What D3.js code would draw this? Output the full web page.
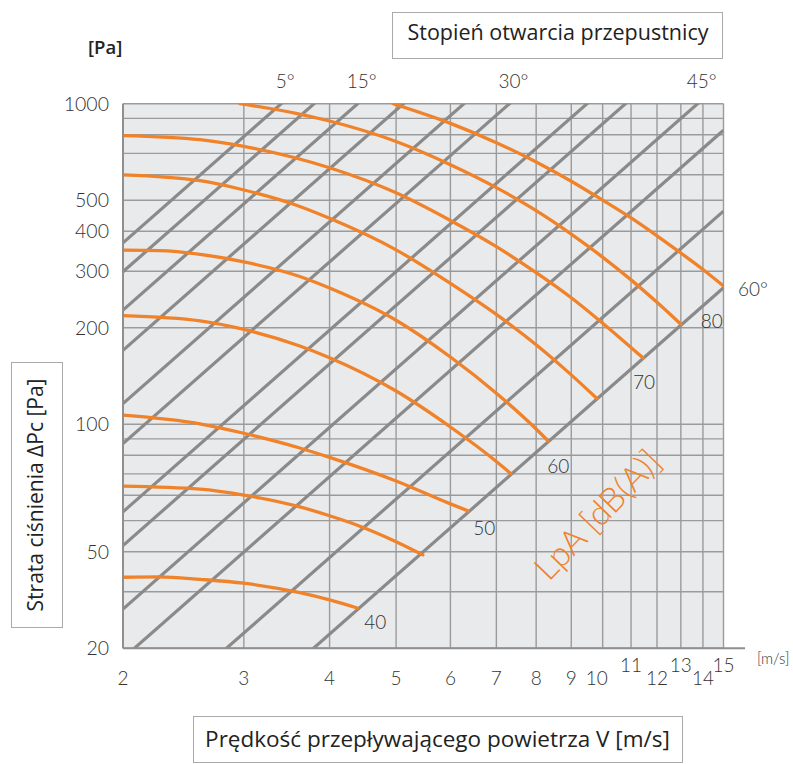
<!DOCTYPE html>
<html><head><meta charset="utf-8">
<script src="https://cdn.jsdelivr.net/npm/d3@7"></script>
<style>body{margin:0;background:#fff}</style>
</head><body>
<svg id="chart" width="793" height="764"></svg>
<script>
// ---------- data ----------
const xTicks = [2,3,4,5,6,7,8,9,10,11,12,13,14,15];
const xRaisedTicks = [11,13,15];
const yGrid = [20,30,40,50,60,70,80,90,100,200,300,400,500,600,700,800,900,1000];
const yTickValues = [1000,500,400,300,200,100,40,20];
const yTickLabels = ["1000","500","400","300","200","100","50","20"];
// grey damper lines: pressure [Pa] at 2 m/s, common exponent
const damperP2 = [368,299,227,170,116,87,53.3,41.8,26.5,18.6,10.4,6.0];
const damperExp = 1.883;
const damperLabelLines = [0,2,5,8,11];
const damperLabelTexts = ["5°","15°","30°","45°","60°"];
// orange LpA curves [v m/s, Δp Pa]
const curveA = [[2,33.3],[2.26,33.4],[2.59,32.8],[3,31.9],[3.62,29.8],[4,28.3],[4.39,26.7]];
const curveB = [[2,64.1],[2.59,62.7],[3,60.1],[3.62,55.2],[4,51.8],[4.39,48.4],[5,43.0],[5.47,39.1]];
const curveC = [[2,106.8],[2.59,100.3],[3,93.7],[3.62,84.3],[4,78.8],[5,66.5],[6,56.4],[6.37,53.6]];
const curveD = [[2,218],[2.59,210],[3,197.5],[3.62,175.4],[4,161.2],[5,126.9],[6,98],[7,76.5],[7.35,70.1]];
const curveE = [[2,349],[2.26,348],[2.59,339],[3,321],[3.62,289],[4,266],[5,211],[6,162],[7,124.9],[8,96.6],[8.33,88.6]];
const curveF = [[2,600],[2.59,575],[3,538],[3.62,478],[4,439],[5,350],[6,275],[7,220],[8,177],[9,142.5],[9.81,120.2]];
const curveG = [[2,795],[2.59,772],[3,736],[4,631],[5,527],[6,432],[7,358],[8,297],[9,248],[9.91,210],[11.45,161]];
const curveH = [[2.96,1000],[3.56,935],[4,883],[5,762],[6,645],[7,547],[8,464],[9,392],[9.91,337],[11,282],[12,240],[13,205]];
const curveI = [[4.95,1000],[6,868],[7,756],[8,658],[9,573],[10,500],[11,440],[12,387],[13,342],[14,304],[15,270]];
const lpaCurves = [curveA,curveB,curveC,curveD,curveE,curveF,curveG,curveH,curveI];
const lpaLabelCurves = [0,2,4,6,7];
const lpaLabelTexts = ["40","50","60","70","80"];

// ---------- layout ----------
const svg = d3.select("#chart");
const L = 123, R = 723.5, T = 103.7, B = 648.2;
const x = d3.scaleLog().domain([2,15]).range([L,R]);
const y = d3.scaleLog().domain([20,1000]).range([B,T]);
const numFont = "Lato, 'Open Sans', sans-serif";
const txtFont = "'Open Sans', 'Noto Sans', sans-serif";
const orange = "#f0822a";
const textCol = "#333";

svg.append("rect").attr("x",L).attr("y",T).attr("width",R-L).attr("height",B-T).attr("fill","#e9eaec");

svg.append("defs").append("clipPath").attr("id","clip")
  .append("rect").attr("x",L).attr("y",T).attr("width",R-L).attr("height",B-T);

// grid
const grid = svg.append("g").attr("stroke","#9b9b9b").attr("stroke-width",1.4);
grid.selectAll("line.h").data(yGrid).join("line")
  .attr("x1",L).attr("x2",R).attr("y1",d=>y(d)).attr("y2",d=>y(d));
grid.selectAll("line.v").data(xTicks).join("line")
  .attr("y1",T).attr("y2",B).attr("x1",d=>x(d)).attr("x2",d=>x(d));

// damper lines
const plot = svg.append("g").attr("clip-path","url(#clip)");
const lineGen = d3.line().x(d=>x(d[0])).y(d=>y(d[1]));
const vSamples = [2,15];
plot.selectAll("path.damper").data(damperP2).join("path")
  .attr("fill","none").attr("stroke","#8a8a8a").attr("stroke-width",3.2)
  .attr("d",p2 => lineGen(vSamples.map(v=>[v,p2*Math.pow(v/2,damperExp)])));

// LpA curves
const curveGen = d3.line().x(d=>x(d[0])).y(d=>y(d[1])).curve(d3.curveMonotoneX);
plot.selectAll("path.lpa").data(lpaCurves).join("path")
  .attr("fill","none").attr("stroke",orange).attr("stroke-width",3.3)
  .attr("stroke-linecap","round")
  .attr("d",curveGen);

// axes lines
svg.append("line").attr("x1",L).attr("x2",745).attr("y1",B).attr("y2",B)
  .attr("stroke","#8f8f8f").attr("stroke-width",2);
svg.append("line").attr("x1",L).attr("x2",L).attr("y1",T).attr("y2",B)
  .attr("stroke","#8f8f8f").attr("stroke-width",2);

// y tick labels
svg.append("g").selectAll("text").data(yTickValues).join("text")
  .attr("x",109).attr("y",d=>y(d)+7).attr("text-anchor","end")
  .attr("font-family",numFont).attr("font-weight",300).attr("font-size",19.5).attr("fill",textCol)
  .text((d,i)=>yTickLabels[i]);

// x tick labels
svg.append("g").selectAll("text").data(xTicks).join("text")
  .attr("x",d=>x(d)-(d===10?6:0)).attr("y",d=>xRaisedTicks.includes(d)?672:685)
  .attr("text-anchor","middle")
  .attr("font-family",numFont).attr("font-weight",300).attr("font-size",19).attr("fill",textCol)
  .text(d=>d);
svg.append("text").attr("x",757).attr("y",664).attr("font-family",numFont).attr("font-weight",300)
  .attr("font-size",15).attr("fill",textCol).text("[m/s]");

// damper angle labels
damperLabelLines.forEach((li,k)=>{
  const p2 = damperP2[li];
  const vTop = 2*Math.pow(1000/p2,1/damperExp);
  let tx, ty, anchor="middle";
  if (vTop <= 15) { tx = x(vTop)+4; ty = 88; }
  else { tx = 738; ty = y(p2*Math.pow(15/2,damperExp))+8; anchor="start"; }
  svg.append("text").attr("x",tx).attr("y",ty).attr("text-anchor",anchor)
    .attr("font-family",numFont).attr("font-weight",300).attr("font-size",19).attr("fill",textCol)
    .text(damperLabelTexts[k]);
});

// LpA labels
const lpaOffsets = [[18,21],[16,24],[10,32],[1,31],[31,4]];
lpaLabelCurves.forEach((ci,k)=>{
  const end = lpaCurves[ci][lpaCurves[ci].length-1];
  svg.append("text").attr("x",x(end[0])+lpaOffsets[k][0]).attr("y",y(end[1])+lpaOffsets[k][1])
    .attr("text-anchor","middle")
    .attr("font-family",numFont).attr("font-weight",300).attr("font-size",19).attr("fill",textCol)
    .text(lpaLabelTexts[k]);
});

// LpA title
svg.append("text").attr("transform","translate(606,523) rotate(-46)")
  .attr("text-anchor","middle").attr("font-family",numFont).attr("font-weight",300)
  .attr("font-size",34).attr("fill",orange).text("LpA [dB(A)]");

// [Pa]
svg.append("text").attr("x",88).attr("y",54).attr("font-family",txtFont).attr("font-weight",600)
  .attr("font-size",18.5).attr("fill","#222").text("[Pa]");

// boxes
function box(x0,y0,w,h){
  svg.append("rect").attr("x",x0).attr("y",y0).attr("width",w).attr("height",h)
    .attr("fill","none").attr("stroke","#aaa").attr("stroke-width",1);
}
box(392.5,12.5,330,46);
svg.append("text").attr("x",558).attr("y",40).attr("text-anchor","middle")
  .attr("font-family",txtFont).attr("font-size",21.5).attr("fill","#222").text("Stopień otwarcia przepustnicy");
box(193.5,716.5,489,46);
svg.append("text").attr("x",437.5).attr("y",747).attr("text-anchor","middle")
  .attr("font-family",txtFont).attr("font-size",22.5).attr("fill","#222").text("Prędkość przepływającego powietrza V [m/s]");
box(11.5,362.5,51,265);
svg.append("text").attr("transform","translate(43,495) rotate(-90)").attr("text-anchor","middle")
  .attr("font-family",txtFont).attr("font-size",21).attr("fill","#222").text("Strata ciśnienia ΔPc [Pa]");
</script>
</body></html>
